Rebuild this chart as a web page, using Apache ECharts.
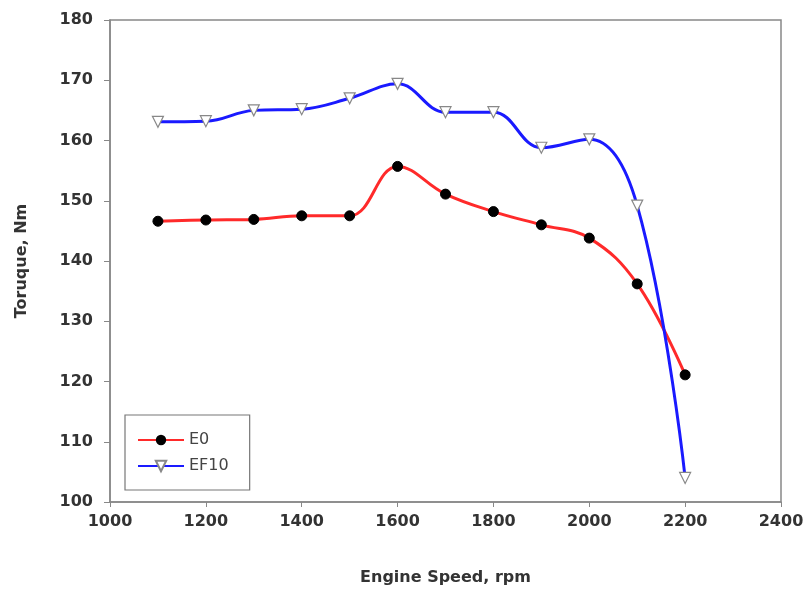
<!DOCTYPE html>
<html>
<head>
<meta charset="utf-8">
<script src="https://cdn.jsdelivr.net/npm/echarts@6/dist/echarts.min.js"></script>
<style>html,body{margin:0;padding:0;background:#fff;}#c{width:808px;height:593px;}</style>
</head>
<body>
<div id="c"></div>
<script>
const speeds = [1100, 1200, 1300, 1400, 1500, 1600, 1700, 1800, 1900, 2000, 2100, 2200];
const e0 = [146.6, 146.8, 146.9, 147.5, 147.5, 155.7, 151.1, 148.2, 146.0, 143.8, 136.2, 121.1];
const ef10 = [163.1, 163.2, 165.0, 165.2, 167.0, 169.4, 164.7, 164.7, 158.8, 160.2, 149.2, 104.0];
const seriesNames = ['E0', 'EF10'];

const chart = echarts.init(document.getElementById('c'));
const font = '"DejaVu Sans", "Liberation Sans", Arial, sans-serif';
chart.setOption({
  animation: false,
  backgroundColor: '#fff',
  grid: {left: 110, right: 27, top: 20, bottom: 91, show: true, borderColor: '#888', borderWidth: 1.5},
  legend: {
    left: 125, top: 415, orient: 'vertical', itemGap: 10,
    padding: [17, 21, 16, 12],
    borderColor: '#777', borderWidth: 1.2,
    itemWidth: 46, itemHeight: 13,
    textStyle: {fontFamily: font, fontSize: 16, color: '#444'},
    data: seriesNames
  },
  xAxis: {
    type: 'value', min: 1000, max: 2400, interval: 200,
    name: 'Engine Speed, rpm', nameLocation: 'middle', nameGap: 68,
    nameTextStyle: {fontFamily: font, fontSize: 16, fontWeight: 'bold', color: '#333'},
    axisLine: {lineStyle: {color: '#888', width: 1.5}},
    axisTick: {show: true, inside: false, length: 5, lineStyle: {color: '#888'}},
    axisLabel: {fontFamily: font, fontSize: 16, fontWeight: 'bold', color: '#333', margin: 12,
      formatter: v => String(v)},
    splitLine: {show: false}
  },
  yAxis: {
    type: 'value', min: 100, max: 180, interval: 10,
    name: 'Toruque, Nm', nameLocation: 'middle', nameGap: 80, nameRotate: 90,
    nameTextStyle: {fontFamily: font, fontSize: 16, fontWeight: 'bold', color: '#333'},
    axisLine: {lineStyle: {color: '#888', width: 1.5}},
    axisTick: {show: true, inside: false, length: 6, lineStyle: {color: '#888'}},
    axisLabel: {fontFamily: font, fontSize: 16, fontWeight: 'bold', color: '#333', margin: 17},
    splitLine: {show: false}
  },
  series: [
    {
      name: seriesNames[0], type: 'line', smooth: 0.4,
      data: speeds.map((s, i) => [s, e0[i]]),
      symbol: 'circle', symbolSize: 10,
      lineStyle: {color: '#ff2a2a', width: 3},
      itemStyle: {color: '#000', borderColor: '#000'},
      z: 2
    },
    {
      name: seriesNames[1], type: 'line', smooth: 0.4,
      data: speeds.map((s, i) => [s, ef10[i]]),
      symbol: 'triangle', symbolRotate: 180, symbolSize: 11,
      lineStyle: {color: '#1a1aff', width: 3},
      itemStyle: {color: '#fff', borderColor: '#888', borderWidth: 1.2},
      z: 3
    }
  ]
});
</script>
</body>
</html>
